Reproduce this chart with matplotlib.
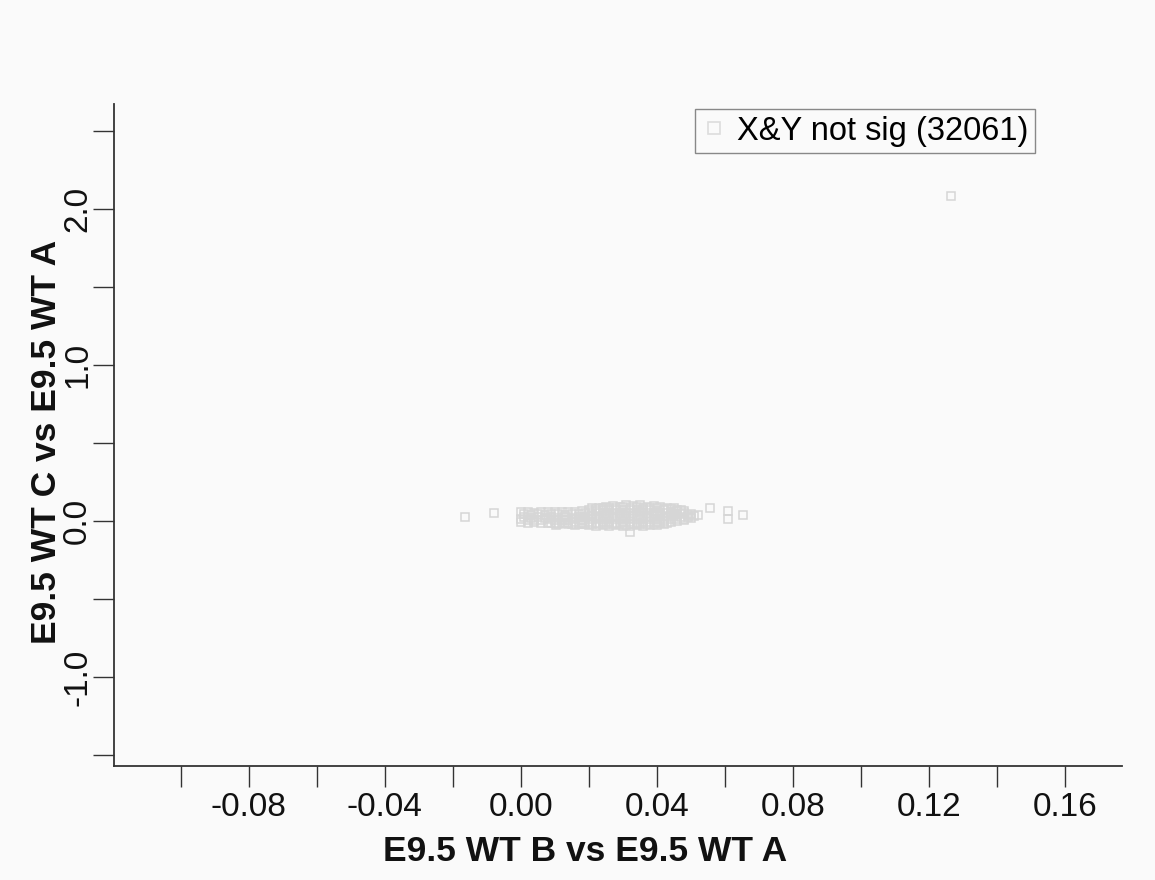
import matplotlib
matplotlib.use("Agg")
import matplotlib.pyplot as plt
from matplotlib.lines import Line2D

# ---- data ----
# dense cluster, row by row
row_a_x = [0.021, 0.023, 0.025, 0.027, 0.029, 0.031, 0.033, 0.035, 0.037, 0.039, 0.041, 0.043, 0.045, 0.047]
row_a_y = [0.080, 0.085, 0.090, 0.095, 0.090, 0.100, 0.095, 0.100, 0.090, 0.095, 0.090, 0.085, 0.080, 0.070]

row_ab_x = [0.020, 0.022, 0.024, 0.026, 0.028, 0.030, 0.032, 0.034, 0.036, 0.038, 0.040, 0.042, 0.044, 0.046, 0.048]
row_ab_y = [0.070, 0.078, 0.080, 0.085, 0.082, 0.088, 0.085, 0.088, 0.085, 0.082, 0.080, 0.078, 0.075, 0.070, 0.062]

row_b_x = [0.000, 0.002, 0.004, 0.006, 0.008, 0.010, 0.012, 0.014, 0.016, 0.018, 0.020, 0.022, 0.024,
           0.026, 0.028, 0.030, 0.032, 0.034, 0.036, 0.038, 0.040, 0.042, 0.044, 0.046, 0.048, 0.050]
row_b_y = [0.055, 0.060, 0.050, 0.060, 0.055, 0.060, 0.058, 0.055, 0.060, 0.062, 0.060, 0.065, 0.068,
           0.070, 0.068, 0.072, 0.070, 0.072, 0.068, 0.070, 0.065, 0.068, 0.060, 0.062, 0.050, 0.045]

row_bc_x = [0.001, 0.003, 0.005, 0.007, 0.009, 0.011, 0.013, 0.015, 0.017, 0.019, 0.021, 0.023, 0.025,
            0.027, 0.029, 0.031, 0.033, 0.035, 0.037, 0.039, 0.041, 0.043, 0.045, 0.047, 0.049]
row_bc_y = [0.042, 0.040, 0.045, 0.040, 0.042, 0.045, 0.040, 0.042, 0.045, 0.048, 0.045, 0.050, 0.048,
            0.052, 0.050, 0.052, 0.050, 0.055, 0.050, 0.052, 0.048, 0.050, 0.045, 0.042, 0.040]

row_c_x = [0.001, 0.003, 0.005, 0.007, 0.009, 0.011, 0.013, 0.015, 0.017, 0.019, 0.021, 0.023, 0.025,
           0.027, 0.029, 0.031, 0.033, 0.035, 0.037, 0.039, 0.041, 0.043, 0.045, 0.047, 0.049, 0.051]
row_c_y = [0.025, 0.020, 0.028, 0.022, 0.025, 0.020, 0.026, 0.022, 0.025, 0.028, 0.030, 0.025, 0.030,
           0.028, 0.032, 0.030, 0.035, 0.030, 0.028, 0.032, 0.030, 0.025, 0.030, 0.025, 0.028, 0.030]

row_cd_x = [0.000, 0.002, 0.004, 0.006, 0.008, 0.010, 0.012, 0.014, 0.016, 0.018, 0.020, 0.022, 0.024,
            0.026, 0.028, 0.030, 0.032, 0.034, 0.036, 0.038, 0.040, 0.042, 0.044, 0.046, 0.048, 0.050]
row_cd_y = [0.010, 0.008, 0.005, 0.008, 0.010, 0.005, 0.008, 0.006, 0.010, 0.008, 0.012, 0.010, 0.012,
            0.010, 0.012, 0.015, 0.012, 0.010, 0.012, 0.010, 0.012, 0.015, 0.012, 0.015, 0.015, 0.018]

row_d_x = [0.000, 0.002, 0.004, 0.006, 0.008, 0.010, 0.012, 0.014, 0.016, 0.018, 0.020, 0.022, 0.024,
           0.026, 0.028, 0.030, 0.032, 0.034, 0.036, 0.038, 0.040, 0.042, 0.044, 0.046, 0.048]
row_d_y = [-0.005, -0.010, -0.008, -0.012, -0.010, -0.015, -0.010, -0.012, -0.008, -0.010, -0.005, -0.010, -0.008,
           -0.005, -0.010, -0.008, -0.005, -0.010, -0.005, -0.008, -0.005, 0.000, -0.005, 0.000, 0.005]

row_de_x = [0.009, 0.011, 0.013, 0.015, 0.017, 0.019, 0.021, 0.023, 0.025, 0.027, 0.029, 0.031, 0.033,
            0.035, 0.037, 0.039, 0.041, 0.043]
row_de_y = [-0.015, -0.018, -0.015, -0.020, -0.018, -0.020, -0.022, -0.020, -0.018, -0.022, -0.020, -0.025, -0.020,
            -0.022, -0.018, -0.020, -0.015, -0.012]

row_e_x = [0.014, 0.016, 0.018, 0.020, 0.022, 0.024, 0.026, 0.028, 0.030, 0.032, 0.034, 0.036, 0.038, 0.040, 0.042]
row_e_y = [-0.020, -0.025, -0.022, -0.028, -0.030, -0.025, -0.032, -0.028, -0.030, -0.035, -0.028, -0.030, -0.025, -0.025, -0.020]

# scattered outliers
out_x = [-0.0165, -0.008, 0.0103, 0.032, 0.0557, 0.061, 0.061, 0.0654, 0.052, 0.1264]
out_y = [0.026, 0.050, -0.026, -0.070, 0.083, 0.064, 0.013, 0.038, 0.040, 2.083]

x_vals = row_a_x + row_ab_x + row_b_x + row_bc_x + row_c_x + row_cd_x + row_d_x + row_de_x + row_e_x + out_x
y_vals = row_a_y + row_ab_y + row_b_y + row_bc_y + row_c_y + row_cd_y + row_d_y + row_de_y + row_e_y + out_y

legend_label = "X&Y not sig (32061)"
x_label = "E9.5 WT B vs E9.5 WT A"
y_label = "E9.5 WT C vs E9.5 WT A"
x_major = [-0.08, -0.04, 0.00, 0.04, 0.08, 0.12, 0.16]
x_minor = [-0.10, -0.06, -0.02, 0.02, 0.06, 0.10, 0.14]
y_major = [-1.0, 0.0, 1.0, 2.0]
y_minor = [-1.5, -0.5, 0.5, 1.5, 2.5]

# ---- plot ----
plt.rcParams['font.family'] = ['Liberation Sans', 'DejaVu Sans']
bg = '#fafafa'
fig = plt.figure(figsize=(11.55, 8.8), dpi=100, facecolor=bg)
ax = fig.add_axes([0.0987, 0.1295, 0.9714 - 0.0987, 0.8818 - 0.1295])
ax.set_facecolor(bg)

pt_color = '#d6d6d6'
ax.plot(x_vals, y_vals, linestyle='none', marker='s', markersize=5.2,
        markerfacecolor='none', markeredgecolor=pt_color, markeredgewidth=1.1)

ax.set_xlim(-0.1196, 0.1767)
ax.set_ylim(-1.571, 2.673)

for s in ['top', 'right']:
    ax.spines[s].set_visible(False)
for s in ['left', 'bottom']:
    ax.spines[s].set_color('#333333')
    ax.spines[s].set_linewidth(1.3)

ax.set_xticks(x_major)
ax.set_xticklabels([f"{v:.2f}" for v in x_major])
ax.set_xticks(x_minor, minor=True)
ax.set_yticks(y_major)
ax.set_yticklabels([f"{v:.1f}" for v in y_major], rotation=90, va='center')
ax.set_yticks(y_minor, minor=True)

for which in ['major', 'minor']:
    ax.tick_params(axis='both', which=which, direction='out', length=15, width=1.0,
                   color='#333333', labelsize=24, labelcolor='#111111')
ax.tick_params(axis='x', which='major', pad=4)
ax.tick_params(axis='y', which='major', pad=0)

ax.set_xlabel(x_label, fontsize=25.5, fontweight='bold', color='#111111')
ax.set_ylabel(y_label, fontsize=25.5, fontweight='bold', color='#111111')
ax.xaxis.set_label_coords(0.467, -0.104)
ax.yaxis.set_label_coords(-0.051, 0.489)

handle = Line2D([], [], linestyle='none', marker='s', markersize=9,
                markerfacecolor='none', markeredgecolor='#dddddd', markeredgewidth=1.2)
leg = ax.legend([handle], [legend_label], loc='upper left',
                bbox_to_anchor=(0.576, 0.992), fontsize=23.5, frameon=True,
                fancybox=False, handlelength=0.8, handletextpad=0.3,
                borderpad=0.2, borderaxespad=0.0)
leg.get_frame().set_edgecolor('#888888')
leg.get_frame().set_facecolor(bg)
leg.get_frame().set_linewidth(1.0)
leg.get_frame().set_alpha(1.0)

fig.savefig('out.png', dpi=100, facecolor=bg)
